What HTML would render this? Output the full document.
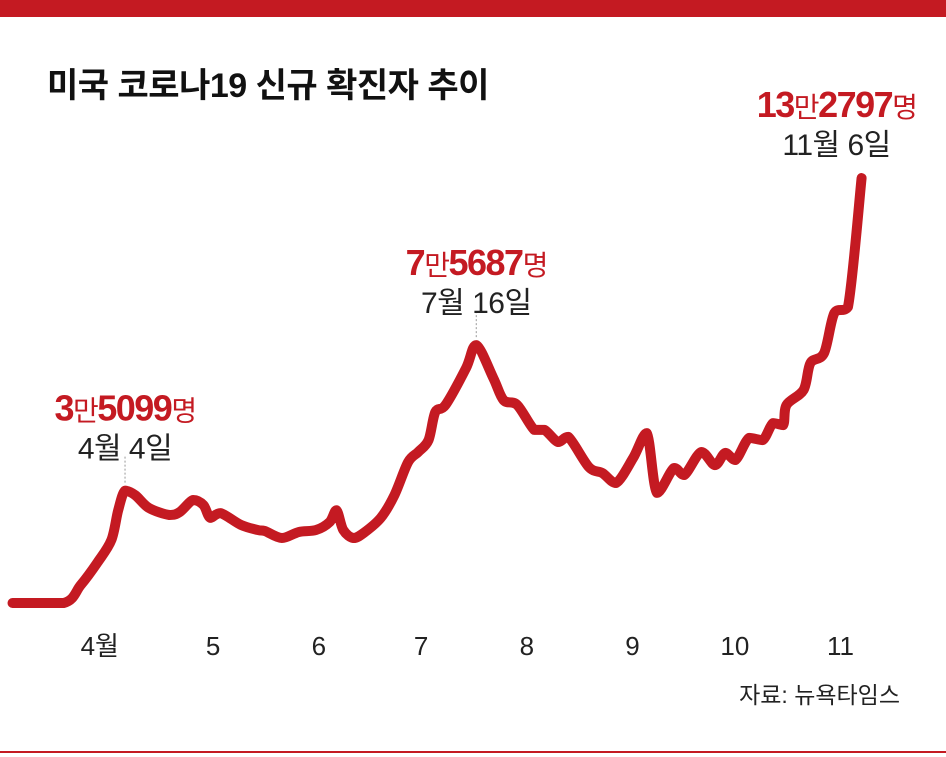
<!DOCTYPE html>
<html><head><meta charset="utf-8">
<style>
body{margin:0;background:#fff;}
#wrap{position:relative;width:946px;height:757px;overflow:hidden;font-family:"Liberation Sans","Noto Sans CJK KR",sans-serif;}
.t{position:absolute;white-space:nowrap;}
</style></head><body>
<div id="wrap">
<div style="position:absolute;left:0;top:0;width:946px;height:17px;background:#c41a22"></div>
<div class="t" style="left:47px;top:58px;font-size:34px;font-weight:bold;color:#111;letter-spacing:-0.5px">미국 코로나19 신규 확진자 추이</div>
<svg id="chart" width="946" height="757" style="position:absolute;left:0;top:0"></svg>
<div class="t" style="right:46px;top:676px;font-size:23px;color:#222">자료: 뉴욕타임스</div>
<div style="position:absolute;left:0;top:751px;width:946px;height:2px;background:#c41a22"></div>
</div>
<script>
const days = [-30,-15,-10,-5,-1,1,3,6,10,16,19,23,26,28,31,37,42,44,49,54,59,63,65,67,70,73,78,82,86,89,92,94,97,103,106,111,114,118,123,126,130,133,139,143,147,152,156,159,164,167,172,176,179,182,186,190,193,196,197,202,204,208,211,215,219];
const cases = [0,0,5600,12800,19700,29000,35099,33700,29700,27500,28400,32200,30600,26600,28100,24400,22800,22500,20300,22200,22800,25300,29000,22800,20300,21900,26600,33700,44000,47200,50900,59700,61900,73400,80600,70300,63400,61900,54100,54100,50300,51900,42500,40600,37500,45300,53100,34400,42200,40000,47200,43100,46900,44700,51600,50900,56200,55600,61900,66600,75000,78100,90600,92500,132797];
const monthLabels = ["4월","5","6","7","8","9","10","11"];
const monthStartDays = [0,30,61,91,122,153,183,214];
const annLabels = ["3만5099명","7만5687명","13만2797명"];
const annDates = ["4월 4일","7월 16일","11월 6일"];
const annDays = [3,106,219];

const NS="http://www.w3.org/2000/svg";
const svg=document.getElementById('chart');
const xs=d=>114.8+d*3.41;
const ys=v=>603-v/312.5;
function mk(tag,attrs){const e=document.createElementNS(NS,tag);for(const k in attrs)e.setAttribute(k,attrs[k]);svg.appendChild(e);return e;}
const pts=days.map((d,i)=>[xs(d),ys(cases[i])]);
let dstr=`M${pts[0][0]},${pts[0][1]}`;
const clamp=(v,a,b)=>Math.max(Math.min(a,b),Math.min(Math.max(a,b),v));
for(let i=0;i<pts.length-1;i++){
  const p0=pts[Math.max(0,i-1)],p1=pts[i],p2=pts[i+1],p3=pts[Math.min(pts.length-1,i+2)];
  const t=0.16;
  const c1=[p1[0]+(p2[0]-p0[0])*t,clamp(p1[1]+(p2[1]-p0[1])*t,p1[1],p2[1])];
  const c2=[p2[0]-(p3[0]-p1[0])*t,clamp(p2[1]-(p3[1]-p1[1])*t,p1[1],p2[1])];
  dstr+=` C${c1[0]},${c1[1]} ${c2[0]},${c2[1]} ${p2[0]},${p2[1]}`;
}
const line=mk('path',{d:dstr,fill:'none',stroke:'#c41a22','stroke-width':10,'stroke-linecap':'round','stroke-linejoin':'round'});


monthLabels.forEach((m,i)=>{
  const off = i===0 ? -15 : -4;
  const t=mk('text',{x:xs(monthStartDays[i])+off,y:655,'text-anchor':'middle','font-size':26,fill:'#222'});
  t.textContent=m;
  
  
});
const annOffsets=[[0,0],[0,0],[-25,0]];
annDays.forEach((d,i)=>{
  const v=cases[days.indexOf(d)];
  const px=xs(d), py=ys(v);
  const ax=px+annOffsets[i][0];
  const vy= i===2 ? 117 : py-70;
  if(i!==2){
    const ln=mk('line',{x1:px,y1:py-34,x2:px,y2:py-8,stroke:'#999','stroke-width':1,'stroke-dasharray':'2,2'});
    
    
  }
  const tv=mk('text',{x:ax,y:vy,'text-anchor':'middle','font-size':36,'font-weight':'bold',fill:'#c41a22','letter-spacing':'-1.5'});
  const s=annLabels[i];
  const parts=s.match(/[0-9]+|[^0-9]+/g);
  parts.forEach(p=>{const sp=document.createElementNS(NS,'tspan');sp.textContent=p;if(/[^0-9]/.test(p)){sp.setAttribute('font-weight','normal');sp.setAttribute('font-size','28');}tv.appendChild(sp);});
  
  
  const td=mk('text',{x:ax,y:vy+38,'text-anchor':'middle','font-size':30,fill:'#222','letter-spacing':'-0.5'});
  td.textContent=annDates[i];
  
  
});
</script>
</body></html>
